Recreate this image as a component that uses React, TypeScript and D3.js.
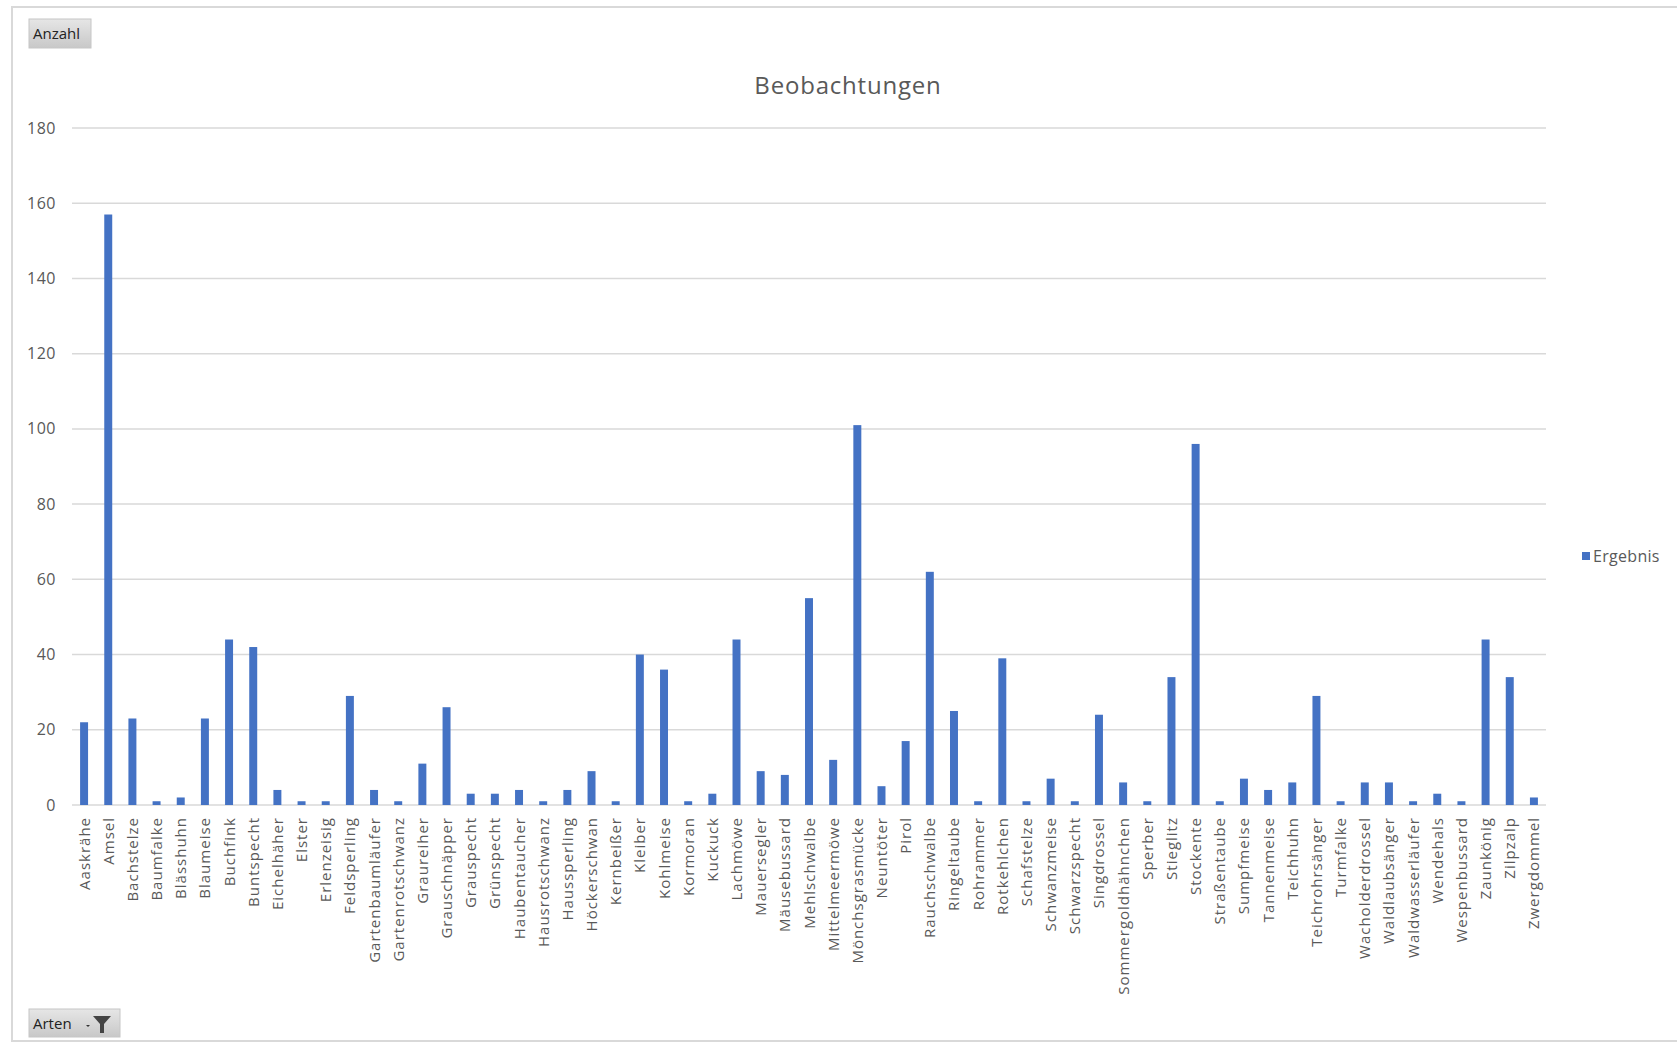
import React from "react";
import * as d3 from "d3";

const species: string[] = [
  "Aaskrähe", "Amsel", "Bachstelze", "Baumfalke", "Blässhuhn", "Blaumeise", "Buchfink", "Buntspecht",
  "Eichelhäher", "Elster", "Erlenzeisig", "Feldsperling", "Gartenbaumläufer", "Gartenrotschwanz",
  "Graureiher", "Grauschnäpper", "Grauspecht", "Grünspecht", "Haubentaucher", "Hausrotschwanz",
  "Haussperling", "Höckerschwan", "Kernbeißer", "Kleiber", "Kohlmeise", "Kormoran", "Kuckuck",
  "Lachmöwe", "Mauersegler", "Mäusebussard", "Mehlschwalbe", "Mittelmeermöwe", "Mönchsgrasmücke",
  "Neuntöter", "Pirol", "Rauchschwalbe", "Ringeltaube", "Rohrammer", "Rotkehlchen", "Schafstelze",
  "Schwanzmeise", "Schwarzspecht", "Singdrossel", "Sommergoldhähnchen", "Sperber", "Stieglitz",
  "Stockente", "Straßentaube", "Sumpfmeise", "Tannenmeise", "Teichhuhn", "Teichrohrsänger",
  "Turmfalke", "Wacholderdrossel", "Waldlaubsänger", "Waldwasserläufer", "Wendehals",
  "Wespenbussard", "Zaunkönig", "Zilpzalp", "Zwergdommel",
];

const ergebnis: number[] = [
  22, 157, 23, 1, 2, 23, 44, 42,
  4, 1, 1, 29, 4, 1,
  11, 26, 3, 3, 4, 1,
  4, 9, 1, 40, 36, 1, 3,
  44, 9, 8, 55, 12, 101,
  5, 17, 62, 25, 1, 39, 1,
  7, 1, 24, 6, 1, 34,
  96, 1, 7, 4, 6, 29,
  1, 6, 6, 1, 3,
  1, 44, 34, 2,
];

const yTicks: number[] = [0, 20, 40, 60, 80, 100, 120, 140, 160, 180];

const seriesName = "Ergebnis";
const chartTitle = "Beobachtungen";
const valueButton = "Anzahl";
const axisButton = "Arten";

const W = 1677;
const H = 1049;
const plotLeft = 72;
const plotRight = 1546;
const plotTop = 128;
const plotBottom = 805;

const BAR = "#4472C4";
const GRID = "#d9d9d9";
const TXT = "#595959";
const FONT = "'Open Sans', 'Noto Sans', sans-serif";

export default function App() {
  const x = d3.scaleBand<string>().domain(species).range([plotLeft, plotRight]).paddingInner(0.67).paddingOuter(0.335);
  const y = d3.scaleLinear().domain([0, 180]).range([plotBottom, plotTop]);

  return (
    <svg width={W} height={H} style={{ position: "absolute", left: 0, top: 0, background: "#fff" }}>
      <defs>
        <linearGradient id="btn" x1="0" y1="0" x2="0" y2="1">
          <stop offset="0" stopColor="#e6e6e6" />
          <stop offset="1" stopColor="#c8c8c8" />
        </linearGradient>
      </defs>
      <rect x={0} y={0} width={W} height={H} fill="#fff" />
      {/* chart area border */}
      <rect x={12} y={7} width={W + 20} height={1034} fill="none" stroke="#d9d9d9" strokeWidth={2} />

      {/* Anzahl button */}
      <rect x={29} y={19} width={62} height={29} fill="url(#btn)" stroke="#c6c6c6" />
      <text x={33} y={39} fontFamily={FONT} fontSize={15} fill="#222">{valueButton}</text>

      {/* title */}
      <text x={848} y={94} textAnchor="middle" fontFamily={FONT} fontSize={24} letterSpacing={0.8} fill={TXT}>{chartTitle}</text>

      {/* gridlines + y labels */}
      {yTicks.map((t) => (
        <g key={t}>
          <line x1={plotLeft} x2={plotRight} y1={y(t)} y2={y(t)} stroke={GRID} strokeWidth={1.5} />
          <text x={56} y={y(t) + 5.5} textAnchor="end" fontFamily={FONT} fontSize={16} letterSpacing={0.5} fill={TXT}>{t}</text>
        </g>
      ))}

      {/* bars */}
      {species.map((s, i) => (
        <rect key={s} x={x(s)!} y={y(ergebnis[i])} width={x.bandwidth()} height={plotBottom - y(ergebnis[i])} fill={BAR} />
      ))}

      {/* x labels */}
      {species.map((s) => {
        const cx = (x(s) as number) + x.bandwidth() / 2;
        return (
          <text key={s} transform={`translate(${cx + 5.5},817) rotate(-90)`} textAnchor="end"
            fontFamily={FONT} fontSize={15} fill={TXT} letterSpacing={1}>{s}</text>
        );
      })}

      {/* legend */}
      <rect x={1582} y={552} width={8} height={8} fill={BAR} />
      <text x={1593} y={561.5} fontFamily={FONT} fontSize={16} letterSpacing={0.3} fill={TXT}>{seriesName}</text>

      {/* Arten button */}
      <rect x={29} y={1009} width={91} height={28} fill="url(#btn)" stroke="#c6c6c6" />
      <text x={33} y={1029} fontFamily={FONT} fontSize={15} fill="#222">{axisButton}</text>
      <path d="M86,1025 l4,0 l-2,2 z" fill="#333" />
      <path d="M93,1016 L111,1016 L104,1024 L104,1033 L100,1033 L100,1024 Z" fill="#444" />
    </svg>
  );
}
